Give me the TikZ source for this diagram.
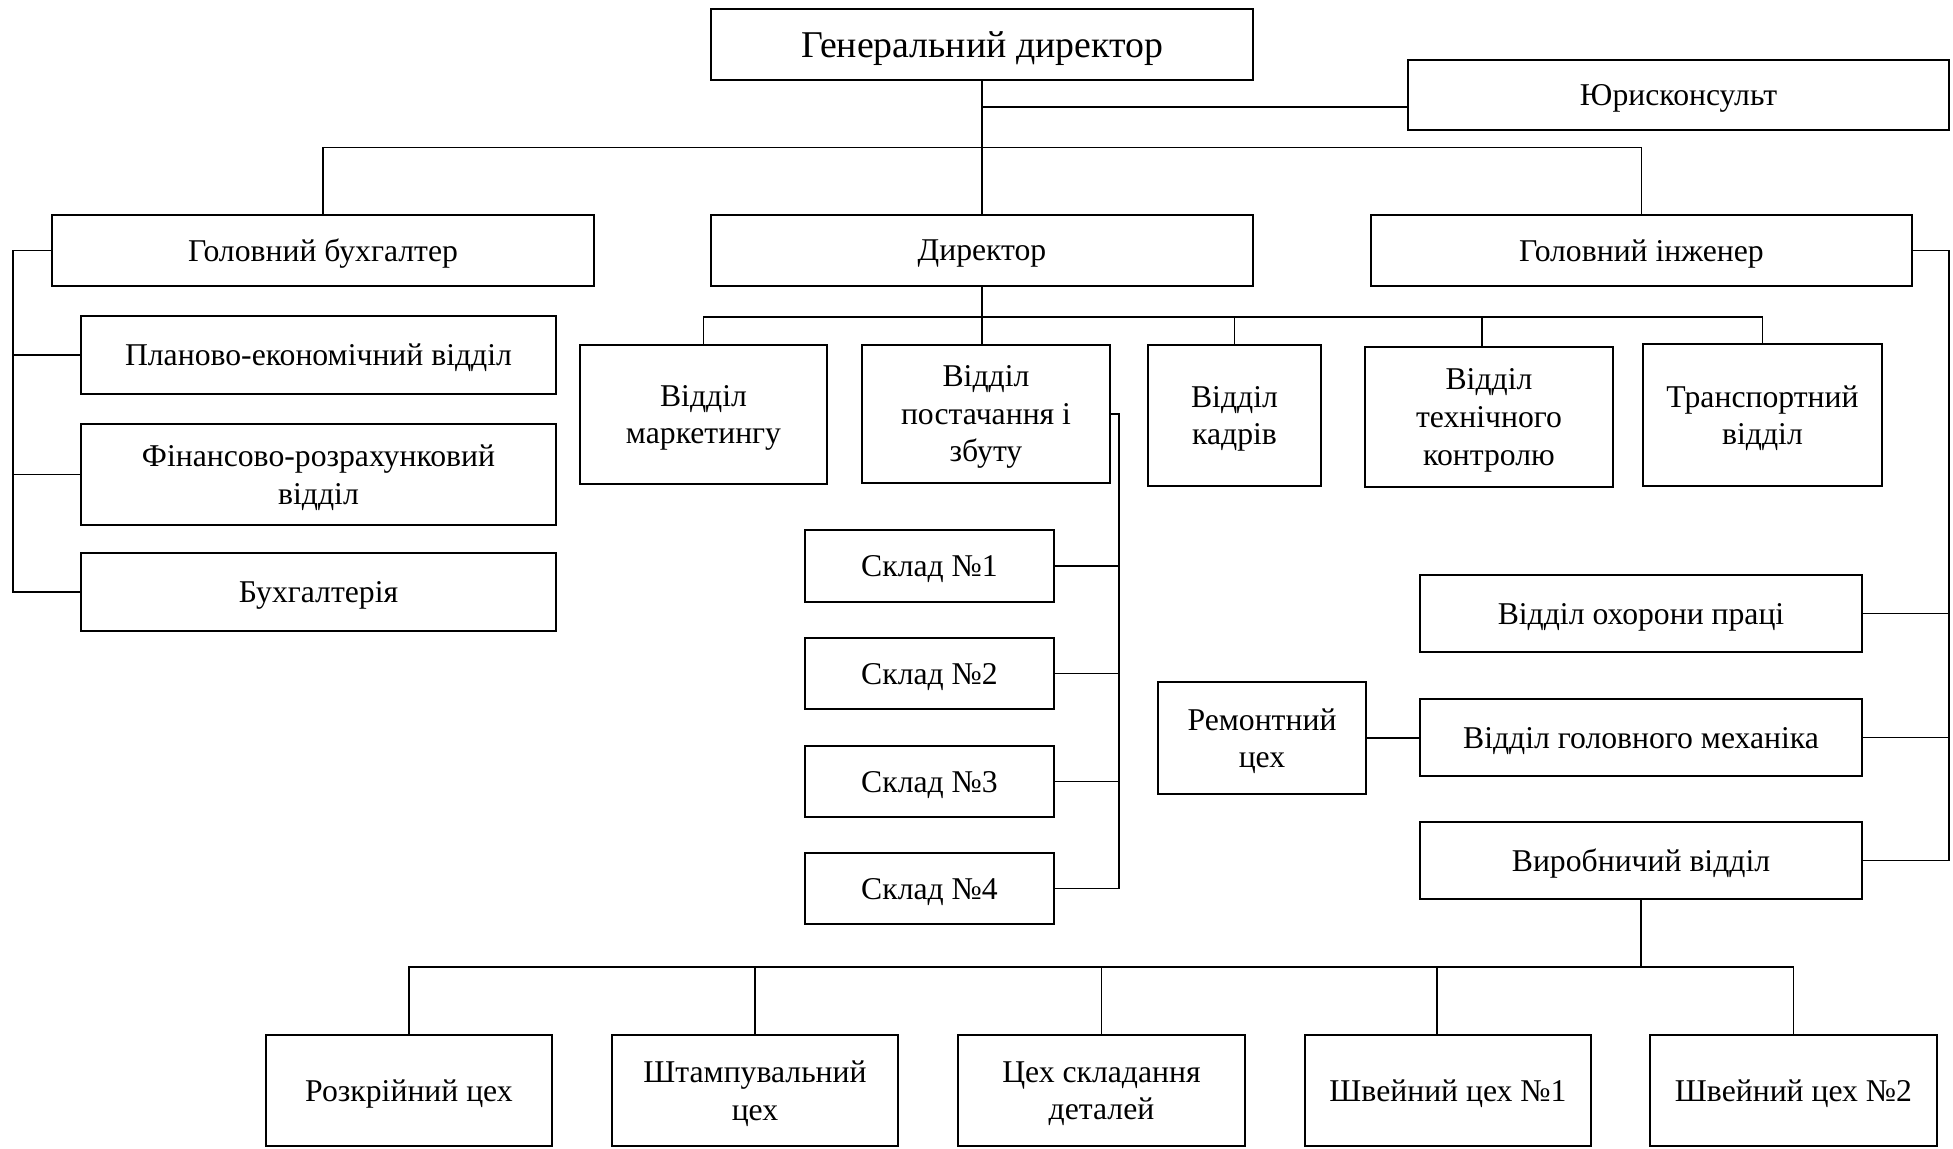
\documentclass[tikz,border=0pt]{standalone}
\usepackage{fontspec}
\setmainfont{Liberation Serif}
\begin{document}
\begin{tikzpicture}[x=1pt,y=-1pt,
  box/.style={draw, line width=2.5pt, inner sep=0pt, align=center, text depth=-6pt, font=\fontsize{31.7}{37.5}\selectfont},
  con/.style={line width=1.3pt}]
\useasboundingbox (0,0) rectangle (1953,1148);
% top level
\node[box, minimum width=542pt, minimum height=71pt, font=\fontsize{37.8}{44}\selectfont] (gd) at (982,44.5) {Генеральний директор};
\node[box, minimum width=541pt, minimum height=70pt] (ju) at (1678.5,95) {Юрисконсульт};
\node[box, minimum width=542pt, minimum height=71pt] (gb) at (323,250.5) {Головний бухгалтер};
\node[box, minimum width=542pt, minimum height=71pt] (dr) at (982,250.5) {Директор};
\node[box, minimum width=541pt, minimum height=71pt] (gi) at (1641.5,250.5) {Головний інженер};
% director's departments
\node[box, minimum width=247pt, minimum height=139pt] (mk) at (703.5,414.5) {Відділ\\маркетингу};
\node[box, minimum width=248pt, minimum height=138pt] (ps) at (986,414) {Відділ\\постачання і\\збуту};
\node[box, minimum width=173pt, minimum height=141pt] (kd) at (1234.5,415.5) {Відділ\\кадрів};
\node[box, minimum width=248pt, minimum height=140pt] (tk) at (1489,417) {Відділ\\технічного\\контролю};
\node[box, minimum width=239pt, minimum height=142pt] (tr) at (1762.5,415) {Транспортний\\відділ};
% accountant's departments
\node[box, minimum width=475pt, minimum height=78pt] (pl) at (318.5,355) {Планово-економічний відділ};
\node[box, minimum width=475pt, minimum height=101pt] (fn) at (318.5,474.5) {Фінансово-розрахунковий\\відділ};
\node[box, minimum width=475pt, minimum height=78pt] (bh) at (318.5,592) {Бухгалтерія};
% warehouses
\node[box, minimum width=249pt, minimum height=72pt] (s1) at (929.5,566) {Склад №1};
\node[box, minimum width=249pt, minimum height=71pt] (s2) at (929.5,673.5) {Склад №2};
\node[box, minimum width=249pt, minimum height=71pt] (s3) at (929.5,781.5) {Склад №3};
\node[box, minimum width=249pt, minimum height=71pt] (s4) at (929.5,888.5) {Склад №4};
% engineer's departments
\node[box, minimum width=442pt, minimum height=77pt] (oh) at (1641,613.5) {Відділ охорони праці};
\node[box, minimum width=442pt, minimum height=77pt] (mh) at (1641,737.5) {Відділ головного механіка};
\node[box, minimum width=442pt, minimum height=77pt] (vr) at (1641,860.5) {Виробничий відділ};
\node[box, minimum width=208pt, minimum height=112pt] (rm) at (1262,738) {Ремонтний\\цех};
% workshops
\node[box, minimum width=286pt, minimum height=111pt] (rz) at (409,1090.5) {Розкрійний цех};
\node[box, minimum width=286pt, minimum height=111pt] (st) at (755,1090.5) {Штампувальний\\цех};
\node[box, minimum width=287pt, minimum height=111pt] (ts) at (1101.5,1090.5) {Цех складання\\деталей};
\node[box, minimum width=286pt, minimum height=111pt] (w1) at (1448,1090.5) {Швейний цех №1};
\node[box, minimum width=287pt, minimum height=111pt] (w2) at (1793.5,1090.5) {Швейний цех №2};
% connectors: top
\coordinate (jy) at (982,107);
\coordinate (tb) at (982,147.3);
\draw[con] (gd.south) -- (dr.north);
\draw[con] (jy) -- (jy -| ju.west);
\draw[con] (gb.north) -- (gb.north |- tb) -- (gi.north |- tb) -- (gi.north);
% director bus
\coordinate (db) at (982,317);
\coordinate (tkj) at (1482,317);
\draw[con] (dr.south) -- (dr.south |- ps.north);
\draw[con] (mk.north) -- (mk.north |- db) -- (tr.north |- db) -- (tr.north);
\draw[con] (kd.north) -- (kd.north |- db);
\draw[con] (tkj) -- (tkj |- tk.north);
% accountant bus
\coordinate (lb) at (13,250.5);
\draw[con] (gb.west) -- (lb) -- (lb |- bh.west) -- (bh.west);
\draw[con] (lb |- pl.west) -- (pl.west);
\draw[con] (lb |- fn.west) -- (fn.west);
% warehouse bus
\coordinate (sb) at (1119,414);
\draw[con] (ps.east) -- (ps.east -| sb) -- (sb |- s4.east) -- (s4.east);
\draw[con] (s1.east) -- (s1.east -| sb);
\draw[con] (s2.east) -- (s2.east -| sb);
\draw[con] (s3.east) -- (s3.east -| sb);
% engineer bus
\coordinate (rb) at (1949,250.5);
\draw[con] (gi.east) -- (rb) -- (rb |- vr.east) -- (vr.east);
\draw[con] (oh.east) -- (oh.east -| rb);
\draw[con] (mh.east) -- (mh.east -| rb);
\draw[con] (rm.east) -- (rm.east -| mh.west);
% workshop bus
\coordinate (bb) at (1641,967);
\coordinate (b4) at (1437,967);
\draw[con] (vr.south) -- (vr.south |- bb);
\draw[con] (rz.north) -- (rz.north |- bb) -- (w2.north |- bb) -- (w2.north);
\draw[con] (st.north) -- (st.north |- bb);
\draw[con] (ts.north) -- (ts.north |- bb);
\draw[con] (b4) -- (b4 |- w1.north);
\end{tikzpicture}
\end{document}
